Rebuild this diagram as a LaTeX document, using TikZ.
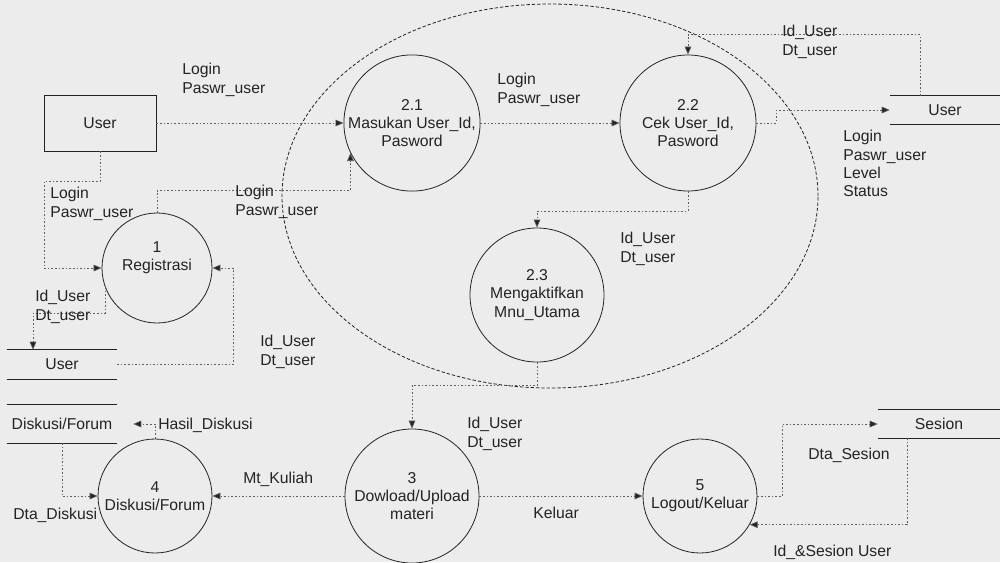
\documentclass[tikz,border=0pt]{standalone}
\usepackage{fontspec}
\setmainfont{Liberation Sans}
\usetikzlibrary{arrows.meta,calc}
\definecolor{bg}{RGB}{236,236,236}
\definecolor{ink}{RGB}{35,35,35}
\definecolor{lineg}{RGB}{95,95,95}
\begin{document}
\begin{tikzpicture}[x=0.75pt,y=-0.75pt,
  every node/.style={font=\fontsize{11.8pt}{13.8pt}\selectfont, text=ink},
  proc/.style={circle,draw=ink,line width=0.6pt,minimum size=#1,inner sep=0pt,align=center},
  proc/.default=100.5pt,
  ent/.style={draw=ink,line width=0.6pt,minimum width=84pt,minimum height=42pt,inner sep=0pt},
  store/.style={minimum width=82.5pt,minimum height=21pt,inner sep=0pt},
  storeline/.style={draw=ink,line width=0.7pt},
  lab/.style={anchor=north west,inner sep=0pt,align=left},
  flow/.style={draw=lineg,line width=0.5pt,dash pattern=on 1.2pt off 1.5pt,
    -{Triangle[length=6pt,width=5pt,fill=ink]}},
  grp/.style={draw=ink,line width=0.6pt,dash pattern=on 2.5pt off 1.5pt}
]
\fill[bg] (0,0) rectangle (1000,562);
\useasboundingbox (0,0) rectangle (1000,562);

% group ellipse
\draw[grp] (550,196) ellipse [x radius=201pt, y radius=144pt];

% external entity
\node[ent] (user) at (100,123) {User};

% processes
\node[proc] (p21) at (412,123) {2.1\\Masukan User\_Id,\\Pasword};
\node[proc=102pt] (p22) at (688,123) {2.2\\Cek User\_Id,\\Pasword};
\node[proc] (p23) at (537,295) {2.3\\Mengaktifkan\\Mnu\_Utama};
\node[proc=82.5pt] (p1) at (157,268) {1\\Registrasi\\[4pt]};
\node[proc=85.5pt] (p4) at (155,496) {4\\Diskusi/Forum};
\node[proc] (p3) at (412,496) {3\\Dowload/Upload\\materi};
\node[proc=85.5pt] (p5) at (700,496) {5\\Logout/Keluar};

% data stores
\node[store] (uR) at (945,110) {User};
\draw[storeline] (uR.north west) -- (uR.north east) (uR.south west) -- (uR.south east);
\node[store,minimum height=21.75pt] (uL) at (62,364.5) {User};
\draw[storeline] (uL.north west) -- (uL.north east) (uL.south west) -- (uL.south east);
\node[store,minimum height=28.5pt] (dk) at (62,424) {Diskusi/Forum};
\draw[storeline] (dk.north west) -- (dk.north east) (dk.south west) -- (dk.south east);
\node[store,minimum width=91.5pt] (ss) at (939,424) {Sesion};
\draw[storeline] (ss.north west) -- (ss.north east) (ss.south west) -- (ss.south east);

% flows
\draw[flow] (user.east) -- (p21.west);
\draw[flow] (p21.east) -- (p22.west);
\draw[flow] (p22.east) -- ++(20,0) |- (uR.west);
\draw[flow] ([xshift=-18.75pt]uR.north) -- ++(0,-61) -| (p22.north);
\draw[flow] (user.south) -- ++(0,30) -- ++(-56,0) |- (p1.west);
\draw[flow] (p1.north) -- ++(0,-22) -| (p21.206);
\draw[flow] (p1.200) -- ++(0,26) -| ([xshift=-21.75pt]uL.north);
\draw[flow] (uL.east) -- ++(116,0) |- (p1.east);
\draw[flow] (p22.south) -- ++(0,20) -| (p23.north);
\draw[flow] (p23.south) -- ++(0,23) -| (p3.north);
\draw[flow] (p3.west) -- (p4.east);
\draw[flow] (p4.north) |- ([xshift=12pt]dk.east);
\draw[flow] (dk.south) |- (p4.west);
\draw[flow] (p3.east) -- (p5.west);
\draw[flow] (p5.east) -- ++(25,0) |- (ss.west);
\draw[flow] ([xshift=-24pt]ss.south) |- (p5.-30);

% labels
\node[lab] (la) at (182,63) {Login\\Paswr\_user};
\node[lab] (lb) at (497,73) {Login\\Paswr\_user};
\node[lab] (lc) at (782,25) {Id\_User\\Dt\_user};
\node[lab] (ld) at (843,130) {Login\\Paswr\_user\\Level\\Status};
\node[lab] (le) at (50,187) {Login\\Paswr\_user};
\node[lab] (lf) at (235,185) {Login\\Paswr\_user};
\node[lab] (lg) at (620,232) {Id\_User\\Dt\_user};
\node[lab] (lh) at (35,290) {Id\_User\\Dt\_user};
\node[lab] (li) at (260,335) {Id\_User\\Dt\_user};
\node[lab] (lj) at (158,418) {Hasil\_Diskusi};
\node[lab] (lk) at (243,472) {Mt\_Kuliah};
\node[lab] (ll) at (13,508) {Dta\_Diskusi};
\node[lab] (lm) at (467,417) {Id\_User\\Dt\_user};
\node[lab] (ln) at (533,507) {Keluar};
\node[lab] (lo) at (808,448) {Dta\_Sesion};
\node[lab] (lp) at (773,545) {Id\_\&Sesion User};
\end{tikzpicture}
\end{document}
